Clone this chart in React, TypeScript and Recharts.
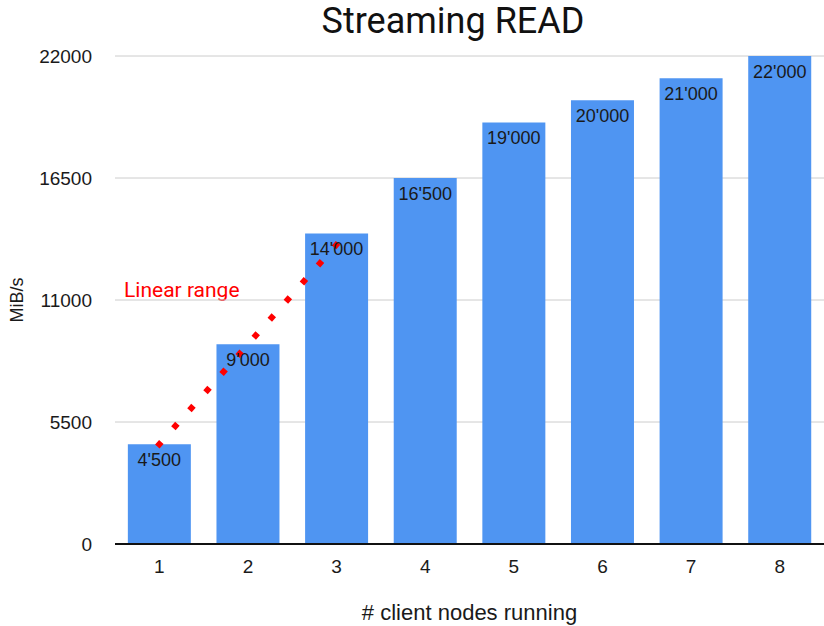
import {
  ComposedChart,
  Bar,
  Line,
  XAxis,
  YAxis,
  CartesianGrid,
  LabelList,
} from 'recharts';

// client nodes on the x axis
const nodes = ['1', '2', '3', '4', '5', '6', '7', '8'];
// measured streaming read throughput, MiB/s
const throughput = [4500, 9000, 14000, 16500, 19000, 20000, 21000, 22000];
// hand-drawn "linear range" guide (4'500 per node), first three nodes only
const linearRange = [4500, 9000, 13500, null, null, null, null, null];
const yTicks = [0, 5500, 11000, 16500, 22000];

const fmt = (v: number) => {
  const s = String(v);
  return s.length > 3 ? s.slice(0, -3) + "'" + s.slice(-3) : s;
};

const data = nodes.map((n, i) => ({
  node: n,
  value: throughput[i],
  linear: linearRange[i],
}));

const sans = 'Liberation Sans, Arial, sans-serif';
const tickFont = { fontSize: 19, fill: '#1a1a1a', fontFamily: sans };

export default function App() {
  return (
    <div style={{ position: 'absolute', left: 0, top: 0, width: 824, height: 626, background: '#fff' }}>
      <div
        style={{
          position: 'absolute',
          left: 0,
          width: 906,
          top: 0,
          lineHeight: '42px',
          textAlign: 'center',
          fontFamily: 'Roboto, sans-serif',
          fontSize: 36,
          color: '#111',
        }}
      >
        Streaming READ
      </div>
      <div
        style={{
          position: 'absolute',
          left: 124,
          top: 278,
          fontFamily: 'Roboto, sans-serif',
          fontSize: 21,
          color: '#ff0000',
        }}
      >
        Linear range
      </div>
      <ComposedChart
        width={824}
        height={626}
        data={data}
        margin={{ top: 56, right: 0, bottom: 0, left: 0 }}
        barCategoryGap="14.5%"
      >
        <CartesianGrid vertical={false} stroke="#cccccc" />
        <XAxis
          dataKey="node"
          height={82}
          tickLine={false}
          tickSize={0}
          tickMargin={16}
          axisLine={{ stroke: '#111', strokeWidth: 2 }}
          tick={tickFont}
          label={{
            value: '# client nodes running',
            position: 'insideBottom',
            offset: 6,
            style: { fontSize: 22, fill: '#1a1a1a', fontFamily: sans },
          }}
        />
        <YAxis
          width={115}
          domain={[0, 22000]}
          ticks={yTicks}
          interval={0}
          axisLine={false}
          tickLine={false}
          tickSize={0}
          tickMargin={23}
          tick={tickFont}
          label={{
            value: 'MiB/s',
            angle: -90,
            position: 'insideLeft',
            offset: 17,
            style: { textAnchor: 'middle', fontSize: 18, fill: '#1a1a1a', fontFamily: sans },
          }}
        />
        <Bar dataKey="value" fill="#4f95f2" isAnimationActive={false}>
          <LabelList
            dataKey="value"
            position="insideTop"
            offset={9}
            formatter={(v: any) => fmt(Number(v))}
            style={{ fontSize: 18, fill: '#1a1a1a', fontFamily: sans }}
          />
        </Bar>
        <Line
          dataKey="linear"
          type="linear"
          stroke="#ff0000"
          strokeWidth={6}
          strokeDasharray="0.01 24.19"
          strokeLinecap="square"
          dot={false}
          activeDot={false}
          connectNulls
          isAnimationActive={false}
        />
      </ComposedChart>
    </div>
  );
}
